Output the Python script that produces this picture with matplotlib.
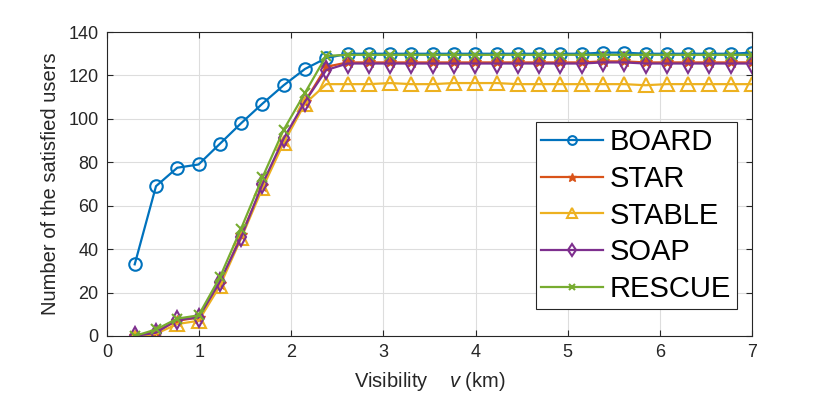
import numpy as np
import matplotlib
matplotlib.use("Agg")
import matplotlib.pyplot as plt

plt.rcParams['font.family'] = ['Liberation Sans', 'DejaVu Sans']
plt.rcParams['mathtext.fontset'] = 'custom'
plt.rcParams['mathtext.it'] = 'Liberation Sans:italic'
plt.rcParams['mathtext.rm'] = 'Liberation Sans'

# visibility (km), 30 points from 0.3 to 7
visibility = np.linspace(0.3, 7, 30)

board = [33, 69, 77.5, 79, 88.5, 98, 107, 115.5, 123, 128,
         130, 130, 130, 130, 130, 130, 130, 130, 130, 130,
         130, 130, 130.5, 130.5, 130, 130, 130, 130, 130, 130.5]
star = [0, 2, 7, 8.5, 24, 46.5, 69, 90, 108, 124,
        126, 126, 126, 126, 126, 126, 126, 126, 126, 126,
        126, 126, 126.5, 126.5, 126, 126, 126, 126, 126, 126]
stable = [-1, 1, 5.5, 7, 23, 45, 68, 89, 107, 116,
          116, 116, 116.5, 116, 116, 116.5, 116.5, 116.5, 116, 116,
          116, 116, 116, 116, 115.5, 116, 116, 116, 116, 116]
soap = [0, 1.5, 7.5, 8.5, 25, 45.5, 70, 91, 108, 122.5,
        125.5, 125.5, 125.5, 125.5, 125.5, 125.5, 125.5, 125.5, 125.5, 125.5,
        125.5, 125.5, 126, 126, 125.5, 125.5, 125.5, 125.5, 125.5, 125.5]
rescue = [0, 3, 8, 9.5, 27, 49.5, 73, 95, 112, 129,
          129.5, 129.5, 129.5, 129.5, 129.5, 129.5, 129.5, 129.5, 129.5, 129.5,
          129.5, 129.5, 129.5, 129.5, 129.5, 129.5, 129.5, 129.5, 129.5, 129.5]

fig = plt.figure(figsize=(8.3, 3.97), dpi=100)
ax = fig.add_axes([0.129, 0.1537, 0.777, 0.7656])

lw = 1.6
ms = 9
mew = 1.5
ax.plot(visibility, board, '-o', color='#0072BD', lw=lw, ms=ms, mew=mew, mfc='none', label='BOARD')
ax.plot(visibility, star, '-*', color='#D95319', lw=lw, ms=ms, mew=1.0, label='STAR')
ax.plot(visibility, stable, '-^', color='#EDB120', lw=lw, ms=ms + 1, mew=mew, mfc='none', label='STABLE')
ax.plot(visibility, soap, '-d', color='#7E2F8E', lw=lw, ms=ms, mew=mew, mfc='none', label='SOAP')
ax.plot(visibility, rescue, '-x', color='#77AC30', lw=lw, ms=7, mew=mew, label='RESCUE')

ax.set_xlim(0, 7)
ax.set_ylim(0, 140)
ax.set_xticks(range(0, 8))
ax.set_yticks(range(0, 141, 20))
ax.grid(True, color='#dddddd', lw=0.8)
ax.set_axisbelow(True)
ax.tick_params(direction='in', labelsize=13, top=True, right=True, length=4,
               colors='#262626', pad=6)
for s in ax.spines.values():
    s.set_color('#262626')
    s.set_linewidth(0.8)

ax.set_xlabel('Visibility    $v$ (km)', fontsize=14.5, color='#262626', labelpad=6)
ax.set_ylabel('Number of the satisfied users', fontsize=14.5, color='#262626', labelpad=6)

leg = ax.legend(loc='lower right', fontsize=21, fancybox=False, framealpha=1,
                edgecolor='#262626', borderpad=0.2, labelspacing=0.3,
                handlelength=2.1, handletextpad=0.25, markerscale=0.7,
                borderaxespad=0, bbox_to_anchor=(0.977, 0.089))
leg.get_frame().set_linewidth(0.8)

fig.savefig('out.png', dpi=100)
